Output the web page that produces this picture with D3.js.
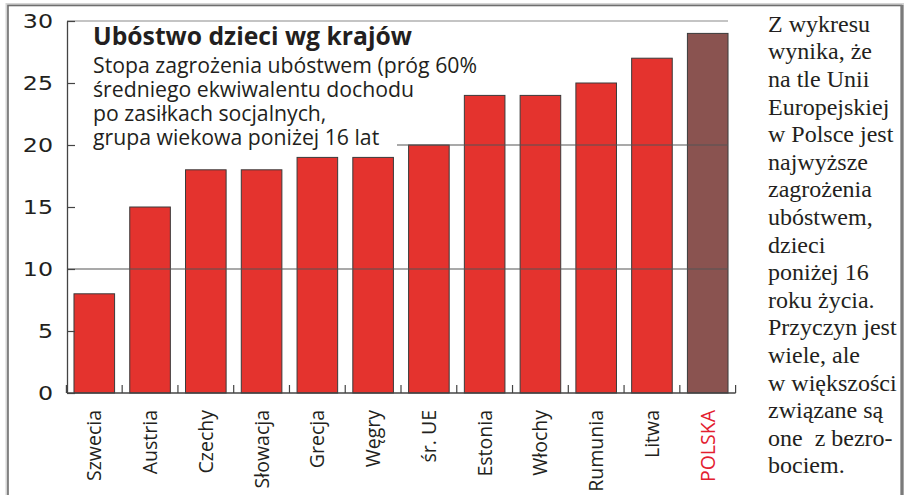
<!DOCTYPE html>
<html lang="pl">
<head>
<meta charset="utf-8">
<title>Ubóstwo dzieci wg krajów</title>
<script src="https://cdn.jsdelivr.net/npm/d3@7"></script>
<style>
  html, body { margin: 0; padding: 0; background: #fff; }
  #wykres { width: 906px; height: 495px; }
</style>
</head>
<body>
<div id="wykres"></div>
<script>
// ── Dane ──
const kraje = ['Szwecia', 'Austria', 'Czechy', 'Słowacja', 'Grecja', 'Węgry',
  'śr. UE', 'Estonia', 'Włochy', 'Rumunia', 'Litwa', 'POLSKA'];
const wartosci = [8, 15, 18, 18, 19, 19, 20, 24, 24, 25, 27, 29];
const wyroznienie = 'POLSKA';
const podzialkaY = [0, 5, 10, 15, 20, 25, 30];
const liniePomocnicze = [10, 20, 30];
const tytul = 'Ubóstwo dzieci wg krajów';
const podtytul = [
  'Stopa zagrożenia ubóstwem (próg 60%',
  'średniego ekwiwalentu dochodu',
  'po zasiłkach socjalnych,',
  'grupa wiekowa poniżej 16 lat'
];
const komentarz = [
  'Z wykresu', 'wynika, że', 'na tle Unii', 'Europejskiej', 'w Polsce jest',
  'najwyższe', 'zagrożenia', 'ubóstwem,', 'dzieci', 'poniżej 16', 'roku życia.',
  'Przyczyn jest', 'wiele, ale', 'w większości', 'związane są', 'one  z bezro-',
  'bociem.'
];

;(function () {
  'use strict';

  const KOLORY = {
    slupek: '#e4332e',
    polska: '#8a5350',
    obrys: '#3a3a3a',
    os: '#444',
    siatka: '#555',
    tekst: '#231f20',
    czerwony: '#e3202f',
    ramka: '#6e6e6e',
    cien: '#d4d4d4'
  };

  const SANS = "'Open Sans', 'Noto Sans', sans-serif";
  const W = 906, H = 495;

  const svg = d3.select('#wykres').append('svg')
    .attr('width', W)
    .attr('height', H);

  // ── Ramka z cieniem ──
  svg.append('rect')
    .attr('x', 8).attr('y', 5.5).attr('width', 893.5).attr('height', 600)
    .attr('fill', 'none').attr('stroke', KOLORY.cien).attr('stroke-width', 5);
  svg.append('rect')
    .attr('x', 8).attr('y', 5.5).attr('width', 893.5).attr('height', 600)
    .attr('fill', '#fff').attr('stroke', KOLORY.ramka).attr('stroke-width', 1.6);
  svg.append('line')
    .attr('x1', 902).attr('x2', 902).attr('y1', 5).attr('y2', H)
    .attr('stroke', '#7a7a7a').attr('stroke-width', 3);

  // ── Skale ──
  const y = d3.scaleLinear().domain([0, 30]).range([393, 21]);
  const x = d3.scaleBand()
    .domain(kraje)
    .range([66.4, 735.6])
    .paddingInner(0.272)
    .paddingOuter(0.136);

  const g = svg.append('g');

  // ── Słupki ──
  g.selectAll('.slupek')
    .data(kraje.map((k, i) => ({ kraj: k, wartosc: wartosci[i] })))
    .enter()
    .append('rect')
    .attr('class', 'slupek')
    .attr('x', d => x(d.kraj))
    .attr('y', d => y(d.wartosc))
    .attr('width', x.bandwidth())
    .attr('height', d => y(0) - y(d.wartosc))
    .attr('fill', d => d.kraj === wyroznienie ? KOLORY.polska : KOLORY.slupek)
    .attr('stroke', KOLORY.obrys)
    .attr('stroke-width', 1);

  // ── Biała plansza pod tytułem ──
  g.append('rect')
    .attr('x', 84).attr('y', 22).attr('width', 313).attr('height', 130)
    .attr('fill', '#fff');

  // ── Linie siatki (nad słupkami) ──
  g.selectAll('.siatka')
    .data(liniePomocnicze)
    .enter()
    .append('line')
    .attr('class', 'siatka')
    .attr('x1', d => d === 20 ? 397 : 67)
    .attr('x2', 728)
    .attr('y1', d => y(d)).attr('y2', d => y(d))
    .attr('stroke', d => d === 30 ? '#8a8a8a' : KOLORY.siatka)
    .attr('stroke-width', 1.2);

  // ── Oś Y ──
  const osY = g.append('g')
    .attr('transform', 'translate(67,0)')
    .call(d3.axisLeft(y).tickValues(podzialkaY).tickSizeInner(-8).tickSizeOuter(0).tickPadding(14));
  osY.select('.domain').attr('stroke', KOLORY.os).attr('stroke-width', 1.3);
  osY.selectAll('.tick line').attr('stroke', KOLORY.os).attr('stroke-width', 1.2);
  osY.selectAll('.tick text')
    .attr('x', -14 / 1.25)
    .attr('transform', 'scale(1.25,1)')
    .attr('fill', KOLORY.tekst)
    .style('font-family', "'DejaVu Sans', sans-serif")
    .style('font-size', '19px');

  // ── Oś X ──
  const osX = g.append('g')
    .attr('transform', `translate(0,${y(0)})`)
    .call(d3.axisBottom(x).tickSizeInner(0).tickSizeOuter(0));
  osX.select('.domain').remove();
  osX.selectAll('.tick text')
    .attr('transform', 'rotate(-90)')
    .attr('x', -17)
    .attr('y', 0)
    .attr('dy', '0.36em')
    .style('text-anchor', 'end')
    .style('font-family', SANS)
    .style('font-size', '19.5px')
    .attr('fill', d => d === wyroznienie ? KOLORY.czerwony : KOLORY.tekst);

  g.append('line')
    .attr('x1', 67).attr('x2', x.range()[1])
    .attr('y1', y(0)).attr('y2', y(0))
    .attr('stroke', KOLORY.os).attr('stroke-width', 1.5);

  // kreski między słupkami
  const przerwa = x.step() * x.paddingInner();
  const granice = kraje.map(k => x(k) - przerwa / 2).concat([x.range()[1]]);
  g.selectAll('.granica')
    .data(granice)
    .enter()
    .append('line')
    .attr('class', 'granica')
    .attr('x1', d => d).attr('x2', d => d)
    .attr('y1', y(0)).attr('y2', y(0) - 8)
    .attr('stroke', KOLORY.os).attr('stroke-width', 1.2);

  // ── Tytuł i podtytuł ──
  function dopasuj(sel, szerokosc) {
    const w = sel.node().getComputedTextLength();
    const fs = parseFloat(sel.style('font-size'));
    const nowy = fs * szerokosc / w;
    sel.style('font-size', nowy + 'px');
    return nowy;
  }

  const t = g.append('text')
    .attr('x', 93).attr('y', 44.5)
    .attr('fill', KOLORY.tekst)
    .style('font-family', SANS)
    .style('font-weight', 700)
    .style('font-size', '21px')
    .text(tytul);
  dopasuj(t, 319);

  const linie = g.selectAll('.podtytul')
    .data(podtytul)
    .enter()
    .append('text')
    .attr('class', 'podtytul')
    .attr('x', 93)
    .attr('y', (d, i) => 72.5 + i * 24.2)
    .attr('fill', KOLORY.tekst)
    .style('font-family', SANS)
    .style('font-size', '20px')
    .text(d => d);
  const fsPod = dopasuj(d3.select(linie.nodes()[0]), 384);
  linie.style('font-size', fsPod + 'px');

  // ── Komentarz po prawej ──
  svg.selectAll('.komentarz')
    .data(komentarz)
    .enter()
    .append('text')
    .attr('class', 'komentarz')
    .attr('x', 768)
    .attr('y', (d, i) => 31.7 + i * 27.6)
    .attr('fill', KOLORY.tekst)
    .style('font-family', "'Liberation Serif', 'Times New Roman', serif")
    .style('font-size', '24px')
    .style('white-space', 'pre')
    .text(d => d);
})();
</script>
</body>
</html>
